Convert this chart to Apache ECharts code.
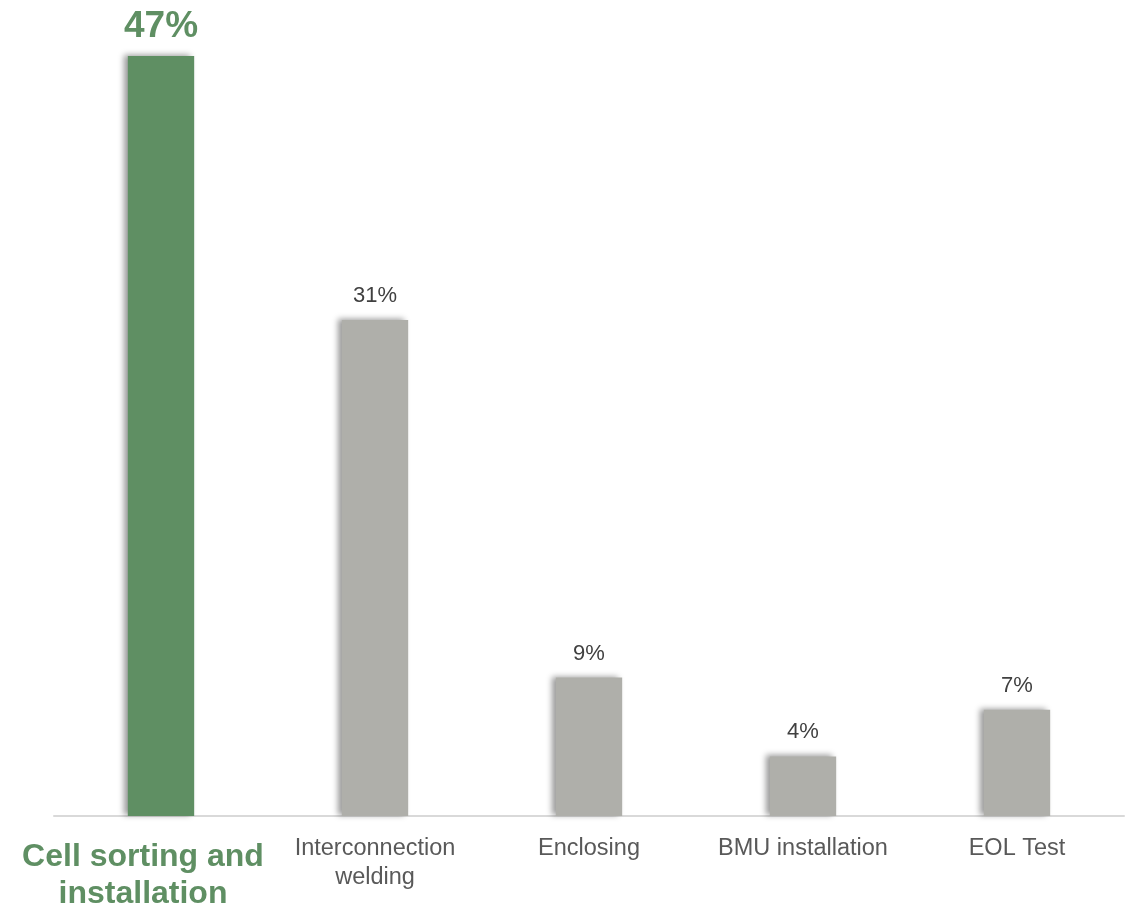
<!DOCTYPE html>
<html>
<head>
<meta charset="utf-8">
<script src="https://cdn.jsdelivr.net/npm/echarts@6/dist/echarts.min.js"></script>
<style>
    html, body {margin: 0; padding: 0; background: #fff;}
    #chart {width: 1132px; height: 907px;}
</style>
</head>
<body>
<div id="chart"></div>
<script>
const categories = ['Cell sorting and\ninstallation', 'Interconnection\nwelding', 'Enclosing', 'BMU installation', 'EOL Test']
const shares = [47.2, 30.8, 8.6, 3.7, 6.6]
const highlightIndex = 0

const GREEN = '#5F8F63'
const GREY = '#AFAFAA'

const myChart = echarts.init(document.getElementById('chart'))

const option = {
    backgroundColor: '#fff',
    animation: false,
    grid: {
        left: 54,
        right: 8,
        top: 11,
        bottom: 91,
        containLabel: false,
        outerBoundsMode: 'none',
    },
    xAxis: {
        type: 'category',
        data: categories.map((name, idx) => {
            if (idx === highlightIndex) {
                // highlighted label sits a little lower and to the left
                return {
                    value: name,
                    textStyle: {
                        color: GREEN,
                        fontSize: 32,
                        fontWeight: 'bold',
                        lineHeight: 37,
                        padding: [5, 36, 0, 0],
                    },
                }
            }
            return name
        }),
        axisLine: {
            lineStyle: {color: '#D9D9D9', width: 2},
        },
        axisTick: {show: false},
        axisLabel: {
            interval: 0,
            margin: 18,
            color: '#595959',
            fontSize: 23.5,
            lineHeight: 29,
            fontFamily: 'Liberation Sans, Arial, sans-serif',
        },
    },
    yAxis: {
        type: 'value',
        min: 0,
        max: 50,
        show: false,
        splitLine: {show: false},
    },
    series: [
        {
            type: 'bar',
            barWidth: '31%',
            data: shares.map((value, idx) => {
                const hi = idx === highlightIndex
                return {
                    value: value,
                    itemStyle: {color: hi ? GREEN : GREY},
                    label: hi
                        ? {color: GREEN, fontSize: 37, fontWeight: 'bold', distance: 11}
                        : {color: '#404040', fontSize: 22, distance: 13},
                }
            }),
            itemStyle: {
                shadowColor: 'rgba(0,0,0,0.4)',
                shadowBlur: 6,
                shadowOffsetX: -4,
                shadowOffsetY: -1,
            },
            label: {
                show: true,
                position: 'top',
                fontFamily: 'Liberation Sans, Arial, sans-serif',
                formatter: (p) => Math.round(p.value) + '%',
            },
        },
    ],
}

myChart.setOption(option)
</script>
</body>
</html>
